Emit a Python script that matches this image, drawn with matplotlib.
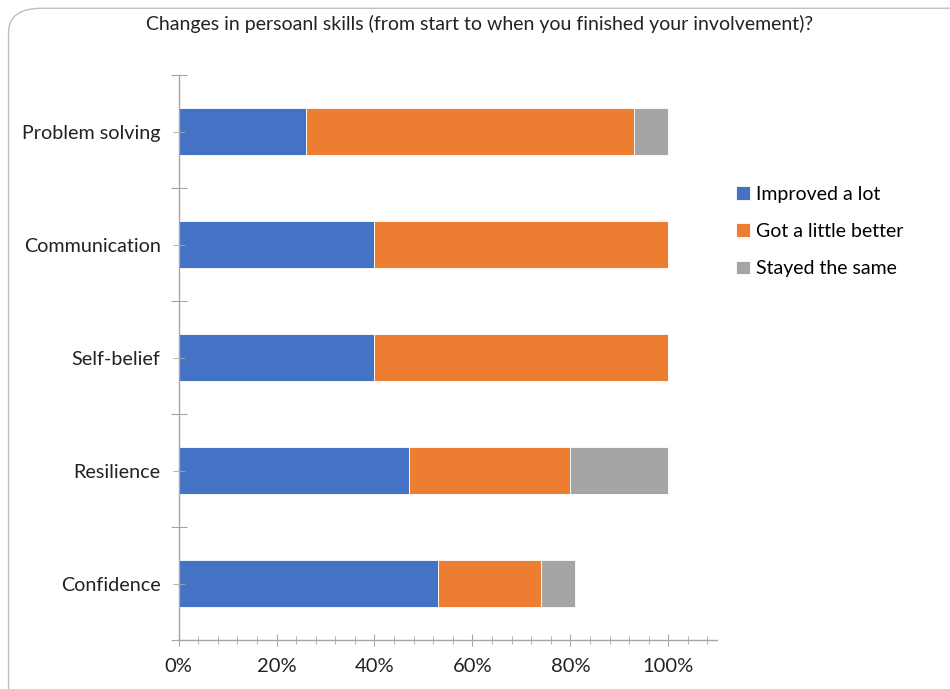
import matplotlib.pyplot as plt
from matplotlib.patches import FancyBboxPatch
from matplotlib.ticker import MultipleLocator, FixedLocator, PercentFormatter

plt.rcParams["font.family"] = ["Lato", "DejaVu Sans"]

skills   = ["Confidence", "Resilience", "Self-belief", "Communication", "Problem solving"]
improved = [53, 47, 40, 40, 26]
little   = [21, 33, 60, 60, 67]
same     = [7, 20, 0, 0, 7]

series = [
    ("Improved a lot", improved, "#4472C4"),
    ("Got a little better", little, "#ED7D31"),
    ("Stayed the same", same, "#A5A5A5"),
]

fig = plt.figure(figsize=(9.5, 6.89), dpi=100)
ax = fig.add_axes([0.188, 0.071, 0.567, 0.82])

left = [0] * len(skills)
for name, vals, col in series:
    ax.barh(range(len(skills)), vals, left=left, height=0.41, color=col,
            edgecolor="white", linewidth=0.6, label=name)
    left = [a + b for a, b in zip(left, vals)]

ax.set_xlim(0, 110)
ax.set_ylim(-0.5, len(skills) - 0.5)
ax.xaxis.set_major_locator(MultipleLocator(20))
ax.xaxis.set_minor_locator(MultipleLocator(4))
ax.xaxis.set_major_formatter(PercentFormatter(decimals=0))
ax.set_xticks([0, 20, 40, 60, 80, 100])

ax.yaxis.set_major_locator(FixedLocator([i - 0.5 for i in range(len(skills) + 1)]))
ax.yaxis.set_minor_locator(FixedLocator(range(len(skills))))
ax.set_yticklabels([])
ax.set_yticks(range(len(skills)), minor=True)
ax.set_yticklabels(skills, minor=True)

for s in ["top", "right"]:
    ax.spines[s].set_visible(False)
for s in ["left", "bottom"]:
    ax.spines[s].set_color("#A6A6A6")
    ax.spines[s].set_linewidth(1.0)

ax.tick_params(axis="x", which="major", direction="inout", length=8, color="#A6A6A6",
               labelsize=14.5, labelcolor="#222222", pad=9)
ax.tick_params(axis="x", which="minor", direction="inout", length=6, color="#A6A6A6")
ax.tick_params(axis="y", which="major", direction="inout", length=12, color="#A6A6A6")
ax.tick_params(axis="y", which="minor", direction="inout", length=8, color="#A6A6A6",
               labelsize=14.2, labelcolor="#222222", pad=9)

fig.text(0.505, 0.965, "Changes in persoanl skills (from start to when you finished your involvement)?",
         ha="center", va="center", fontsize=14, color="#222222")

handles, labels = ax.get_legend_handles_labels()
fig.legend(handles, labels, loc="upper left", bbox_to_anchor=(0.767, 0.742),
           frameon=False, fontsize=14, handlelength=0.7, handleheight=0.7,
           handletextpad=0.3, labelspacing=1.05, borderaxespad=0)

border = FancyBboxPatch((0.009, -0.05), 1.1, 1.038, boxstyle="round,pad=0,rounding_size=0.035",
                        transform=fig.transFigure, facecolor="none", edgecolor="#BFBFBF",
                        linewidth=1.0, zorder=-1)
fig.patches.append(border)

plt.savefig("out.png", dpi=100)
